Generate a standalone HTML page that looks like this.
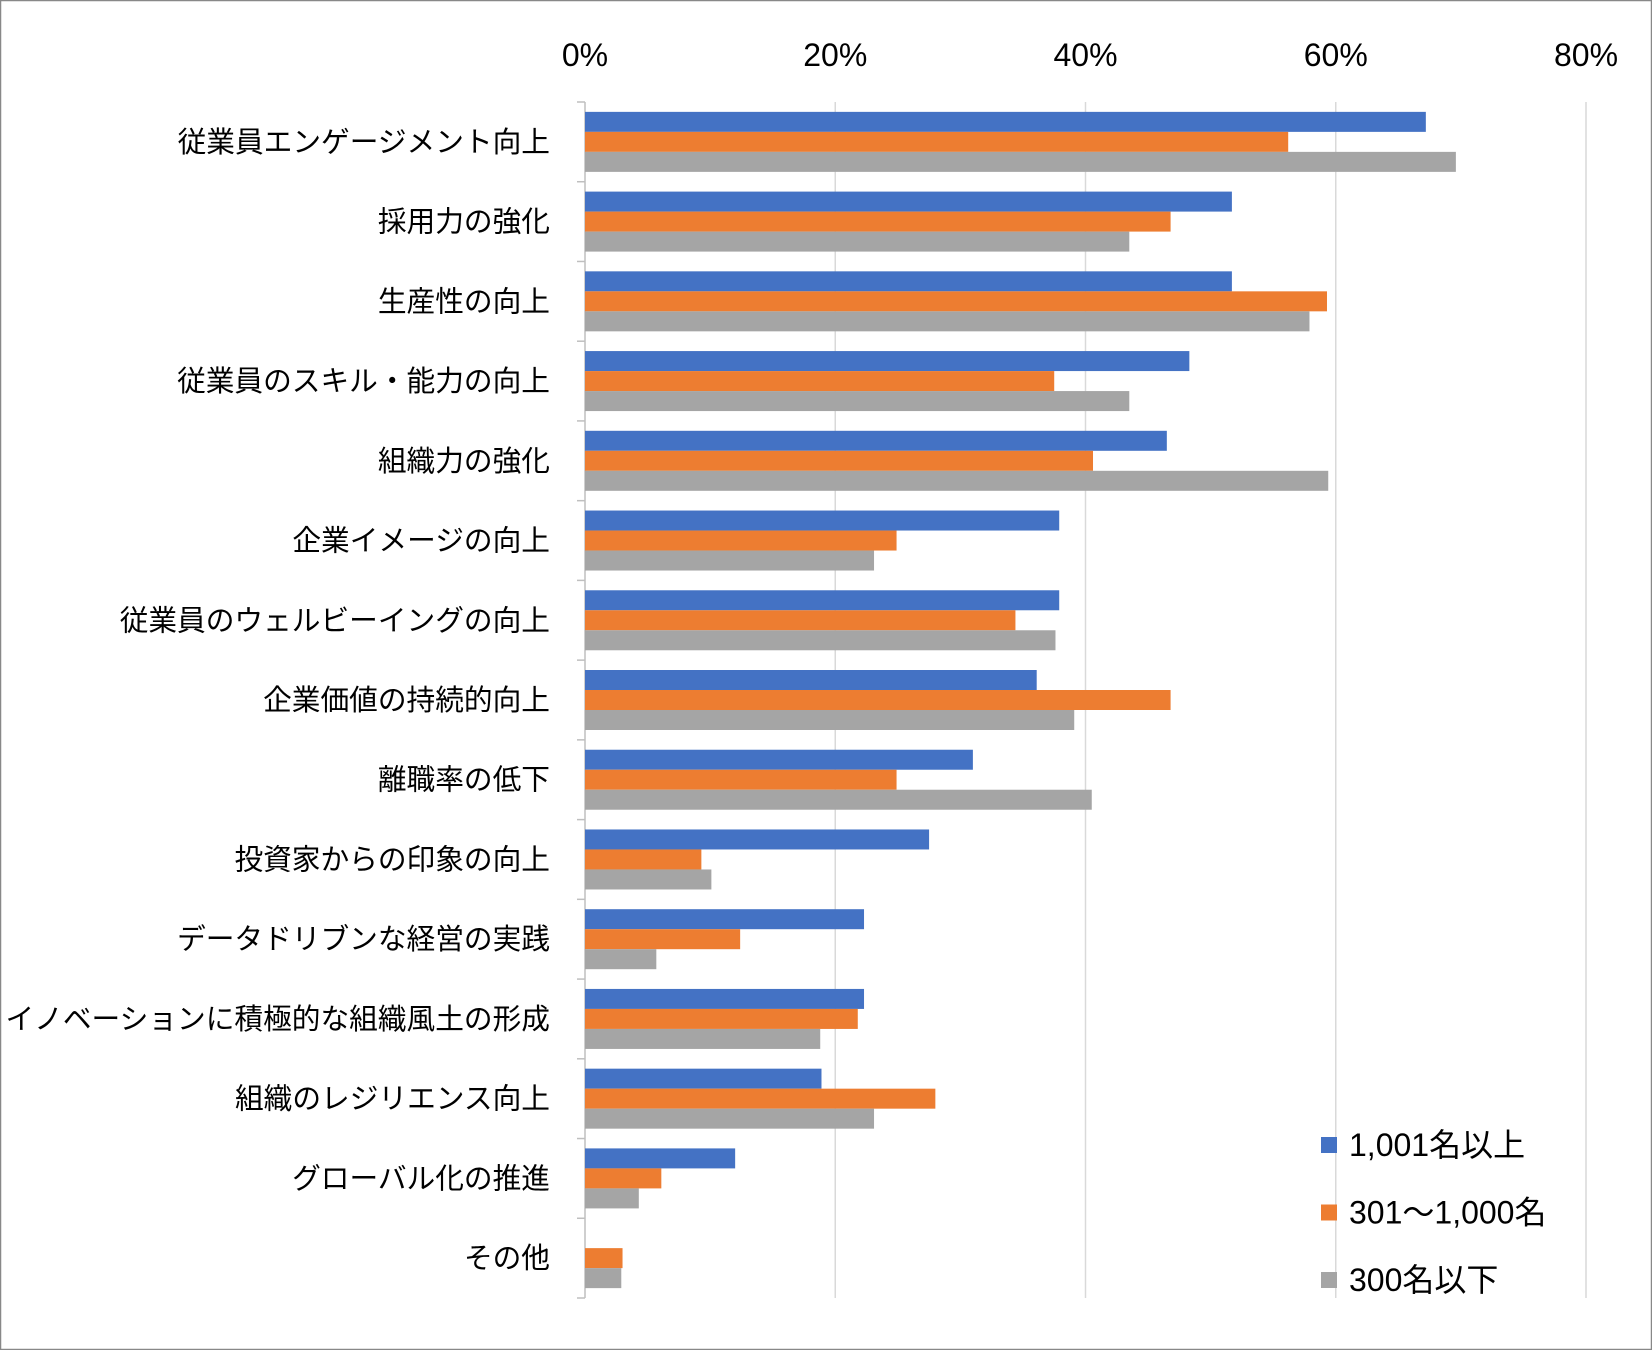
<!DOCTYPE html>
<html><head><meta charset="utf-8"><style>
html,body{margin:0;padding:0;background:#fff}
svg{display:block}
text{font-family:"Liberation Sans","Noto Sans CJK JP",sans-serif;fill:#000}
</style></head><body>
<svg id="chart" width="1652" height="1350" viewBox="0 0 1652 1350" xmlns="http://www.w3.org/2000/svg">
<rect x="0.5" y="0.5" width="1651" height="1349" fill="#fff" stroke="#888" stroke-width="1.5"/>
<g id="grid"></g><g id="bars"></g><g id="labels"></g><g id="legend"></g>
</svg>
<script>
const categories=["従業員エンゲージメント向上","採用力の強化","生産性の向上","従業員のスキル・能力の向上","組織力の強化","企業イメージの向上","従業員のウェルビーイングの向上","企業価値の持続的向上","離職率の低下","投資家からの印象の向上","データドリブンな経営の実践","イノベーションに積極的な組織風土の形成","組織のレジリエンス向上","グローバル化の推進","その他"];
const seriesNames=["1,001名以上","301～1,000名","300名以下"];
const seriesColors=["#4472C4","#ED7D31","#A5A5A5"];
const large=[67.2,51.7,51.7,48.3,46.5,37.9,37.9,36.1,31.0,27.5,22.3,22.3,18.9,12.0,0];
const mid=[56.2,46.8,59.3,37.5,40.6,24.9,34.4,46.8,24.9,9.3,12.4,21.8,28.0,6.1,3.0];
const small=[69.6,43.5,57.9,43.5,59.4,23.1,37.6,39.1,40.5,10.1,5.7,18.8,23.1,4.3,2.9];
const ticks=[0,20,40,60,80];
const series=[large,mid,small];
const NS="http://www.w3.org/2000/svg";
const L=585,R=1586,T=102,B=1298,band=(B-T)/categories.length,bh=20;
const x=v=>L+(R-L)*v/80;
function mk(tag,attrs,parent){const e=document.createElementNS(NS,tag);for(const k in attrs)e.setAttribute(k,attrs[k]);document.getElementById(parent).appendChild(e);return e;}
ticks.forEach(t=>{
 const g=mk('line',{x1:x(t),x2:x(t),y1:T,y2:B,stroke:t===0?'#bfbfbf':'#d9d9d9','stroke-width':1.5},'grid');
 
 
 const tl=mk('text',{x:x(t),y:66,'text-anchor':'middle','font-size':32},'labels');
 tl.textContent=t+'%';
 
 
});
for(let i=0;i<=categories.length;i++){
 const m=mk('line',{x1:L-8,x2:L,y1:T+i*band,y2:T+i*band,stroke:'#bfbfbf','stroke-width':1.5},'grid');
 
 
}
categories.forEach((c,i)=>{
 const y0=T+i*band+(band-3*bh)/2;
 series.forEach((s,j)=>{
  const r=mk('rect',{x:L,y:y0+j*bh,width:Math.max(0,x(s[i])-L),height:bh,fill:seriesColors[j]},'bars');
  
  
 });
 const t=mk('text',{x:550,y:T+i*band+band/2+10,'text-anchor':'end','font-size':28.7},'labels');
 t.textContent=c;
 
 
});
seriesNames.forEach((n,j)=>{
 const cy=1145+j*67.5;
 const s=mk('rect',{x:1321,y:cy-8,width:16,height:16,fill:seriesColors[j]},'legend');
 
 
 const t=mk('text',{x:1349,y:cy+11,'font-size':32},'legend');
 t.textContent=n;
 
 
});
</script>
</body></html>
